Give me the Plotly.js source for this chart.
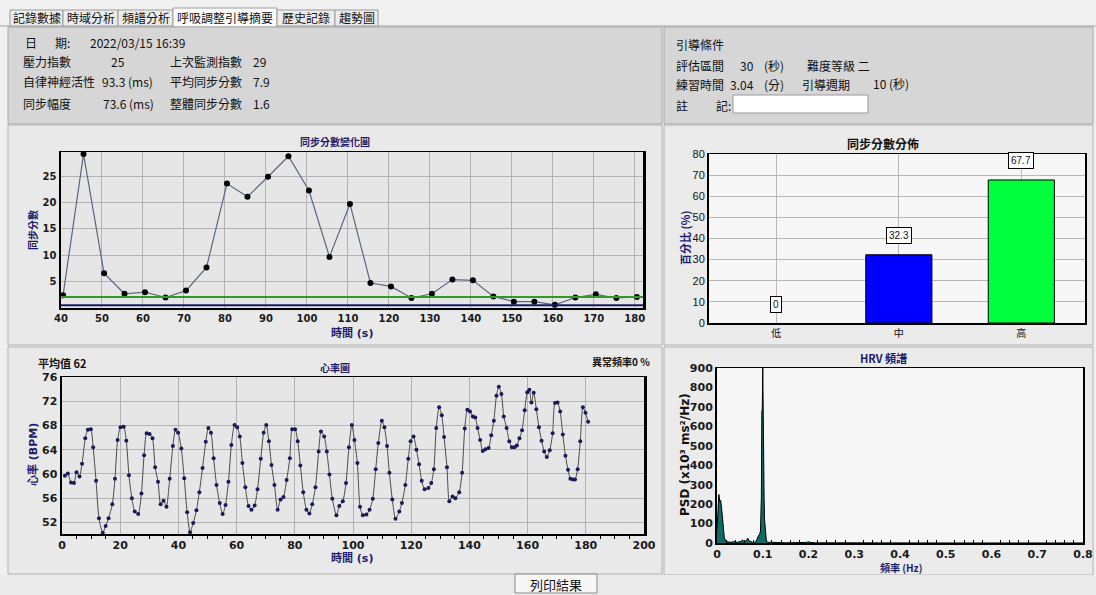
<!DOCTYPE html>
<html><head><meta charset="utf-8">
<script src="https://cdn.plot.ly/plotly-3.0.1.min.js"></script>
<style>html,body{margin:0;padding:0;background:#f0f0f0;overflow:hidden}#chart{width:1096px;height:595px}</style>
</head><body><div id="chart"></div>
<script>
// ---------------- DATA ----------------
const tabNames = ['記錄數據','時域分析','頻譜分析','呼吸調整引導摘要','歷史記錄','趨勢圖'];

const syncTime = [40.5,45.5,50.5,55.5,60.5,65.5,70.5,75.5,80.5,85.5,90.5,95.5,100.5,105.5,110.5,115.5,120.5,125.5,130.5,135.5,140.5,145.5,150.5,155.5,160.5,165.5,170.5,175.5,180.5];
const syncScore = [2.4,29.2,6.6,2.7,3.0,2.0,3.3,7.7,23.6,21.1,24.9,28.8,22.3,9.7,19.75,4.75,4.1,1.9,2.7,5.4,5.25,2.2,1.2,1.2,0.6,2.0,2.6,1.9,2.1];
const syncThresholds = [2.1, 0.5];

const distCategories = ['低','中','高'];
const distPercent = [0, 32.3, 67.7];

const hrTime = [1.0,2.0,3.1,4.1,5.0,6.0,6.9,8.0,8.9,9.9,
10.7,11.7,12.7,14.0,15.0,16.0,17.3,18.2,19.1,20.1,
21.2,22.1,23.0,24.0,25.0,26.2,27.3,28.2,29.1,30.1,
31.1,32.0,33.0,33.9,34.9,35.9,37.0,38.1,39.0,39.9,
41.0,42.0,43.0,44.0,45.1,46.2,47.2,48.3,49.4,50.3,
51.2,52.1,53.1,54.2,55.2,56.2,57.2,58.2,59.3,60.2,
61.1,62.0,63.0,64.1,65.1,66.2,67.2,68.3,69.3,70.2,
71.1,72.0,73.0,74.1,75.1,76.1,77.2,78.3,79.1,80.1,
81.0,81.9,82.9,84.0,85.0,86.0,87.1,88.2,89.0,90.1,
91.0,91.9,92.9,
94.3,95.3,96.5,97.6,98.6,99.6,100.5,101.5,102.4,103.4,
104.6,105.7,106.8,107.8,108.7,109.9,110.8,111.7,112.5,113.5,
114.6,115.9,116.8,118.0,119.0,119.8,120.8,121.8,122.7,123.6,
124.6,125.9,126.9,127.8,128.6,129.6,130.5,131.3,132.3,133.1,
134.2,135.2,136.5,137.5,138.4,139.3,140.2,141.2,142.0,142.8,
143.7,144.6,145.5,146.6,147.5,148.4,149.3,150.1,151.0,151.8,
152.8,153.7,154.6,155.5,156.3,157.2,158.1,159.0,159.9,160.6,
161.3,162.1,163.0,163.9,164.8,165.7,166.6,167.6,168.6,169.4,
170.3,171.2,172.1,173.0,173.9,174.7,175.6,176.3,177.2,178.1,
179.0,179.9,180.8];
const hrBpm = [59.7,60.1,58.6,58.5,60.3,59.6,61.7,65.9,67.3,67.4,
64.4,58.9,52.7,50.3,51.4,52.7,55.0,59.2,65.6,67.7,
67.8,65.5,59.8,56.0,53.8,53.4,56.8,63.1,66.7,66.6,
65.9,61.1,58.7,55.0,55.6,54.6,59.2,64.6,67.3,66.8,
64.2,59.3,53.7,50.4,51.9,54.0,57.0,61.0,65.3,67.6,
66.8,62.6,58.2,55.2,53.4,54.9,58.7,64.8,68.1,67.7,
66.2,61.8,57.8,54.7,54.1,54.8,57.5,62.5,66.8,68.1,
65.4,61.5,58.2,54.1,55.8,56.2,59.0,62.6,67.4,67.4,
65.4,61.4,57.0,54.1,53.5,55.0,57.8,63.7,67.0,66.2,
63.7,59.9,55.9,
53.2,54.7,55.5,58.5,64.4,68.1,65.6,61.8,54.6,53.2,
53.3,54.1,55.9,60.8,65.1,68.8,67.7,64.6,60.2,55.8,
52.6,53.8,55.2,58.2,62.5,65.4,66.2,64.0,61.6,58.9,
57.5,57.7,58.5,60.8,67.6,71.0,69.7,66.1,61.1,55.5,
56.3,56.0,57.0,60.2,67.5,70.6,70.3,69.5,69.3,67.6,
65.6,63.8,64.1,64.3,66.4,68.8,72.9,74.4,73.2,69.5,
67.6,65.4,64.4,64.4,64.7,65.9,67.2,70.5,73.5,73.9,
71.8,73.4,70.7,67.7,65.5,63.7,62.8,63.9,66.7,71.7,
71.8,70.3,66.5,63.0,60.7,59.2,59.1,59.1,60.8,65.4,
71.0,70.1,68.6];

const hrvFreq = [0,0.002,0.004,0.006,0.008,0.010,0.012,0.014,0.016,0.018,
0.020,0.024,0.028,0.032,0.036,0.040,0.044,0.048,0.052,0.056,
0.060,0.064,0.067,0.070,0.074,0.078,0.082,0.086,0.090,0.093,
0.095,0.097,0.098,0.099,0.100,0.101,0.102,0.103,0.104,0.106,
0.108,0.112,0.120,0.124,0.128,0.135,0.150,0.165,0.168,0.172,
0.185,0.196,0.200,0.204,0.215,0.250,0.300,0.400,0.500,0.600,0.700,0.800];
const hrvPsd = [70,150,250,215,220,180,140,80,25,12,
8,5,3,4,8,4,3,6,8,15,
6,12,25,12,6,3,4,10,35,45,
60,240,680,680,900,450,460,230,120,25,
8,4,3,6,5,2,1,2,4,2,
1,3,7,3,1,0.5,0.3,0.2,0.1,0.1,0.1,0.1];

// ---------------- LAYOUT HELPERS ----------------
const W = 1096, H = 595;
const X = p => p / W, Y = p => 1 - p / H;
const CJK = '"Noto Sans CJK TC", "Noto Sans", sans-serif';
const NUM = '"DejaVu Sans", "Noto Sans CJK TC", sans-serif';
const NAVY = '#1c1c6e';

function rect(x0, y0, x1, y1, fill, line, lw) {
  return {type:'rect', xref:'paper', yref:'paper', x0:X(x0), x1:X(x1), y0:Y(y1), y1:Y(y0),
    fillcolor:fill, line:{color:line||'rgba(0,0,0,0)', width: lw===undefined?1:lw}, layer:'below'};
}
function ann(text, x, y, o) {
  o = o || {};
  return {text:text, x:X(x), y:Y(y), xref:'paper', yref:'paper', showarrow:false,
    xanchor:o.xa||'left', yanchor:'middle', textangle:o.angle||0,
    font:{family:o.family||CJK, size:o.size||12, color:o.color||'#111', weight:o.weight||'normal'}};
}

const shapes = [];
const annotations = [];

// tabs
const tabEdges = [10,63,118,173,277,335,378];
shapes.push(rect(0,0,1096,27,'#f0f0f0','rgba(0,0,0,0)',0));
shapes.push({type:'line',xref:'paper',yref:'paper',x0:X(0),x1:X(1096),y0:Y(26),y1:Y(26),line:{color:'#a0a0a0',width:1},layer:'below'});
tabNames.forEach((t,i)=>{
  const active = i===3;
  shapes.push(rect(tabEdges[i], active?8:10, tabEdges[i+1], active?27:26, active?'#ffffff':'#ececec', '#9a9a9a', 1));
  annotations.push(ann(t,(tabEdges[i]+tabEdges[i+1])/2, 17, {xa:'center', size:12}));
});

// panels
shapes.push(rect(8,27,662,124,'#d6d6d6','#a8a8a8',1));
shapes.push(rect(664,27,1093,124,'#d6d6d6','#a8a8a8',1));
shapes.push(rect(8,125,662,345,'#e9e9e9','#b0b0b0',1));
shapes.push(rect(664,125,1093,345,'#ebebeb','#b0b0b0',1));
shapes.push(rect(8,347,662,574,'#e9e9e9','#b0b0b0',1));
shapes.push(rect(664,347,1093,575,'#ebebeb','#b0b0b0',1));
shapes.push(rect(0,575,1096,595,'#eaeaea','rgba(0,0,0,0)',0));

// plot backgrounds
const pbg = (ax, fill) => ({type:'rect', xref:ax[0]+' domain', yref:ax[1]+' domain', x0:0,x1:1,y0:0,y1:1, fillcolor:fill, line:{width:0}, layer:'below'});
shapes.push(pbg(['x','y'],'#e6e6e6'));
shapes.push(pbg(['x2','y2'],'#f7f7f7'));
shapes.push(pbg(['x3','y3'],'#e6e6e6'));
shapes.push(pbg(['x4','y4'],'#f6f6f6'));

// input box and button
shapes.push(rect(733,95,868,113,'#ffffff','#9a9a9a',1));
shapes.push(rect(515,574,597,593,'#f7f7f7','#8a8a8a',1));
annotations.push(ann('列印結果',556,584,{xa:'center',size:13}));

// info texts
annotations.push(ann('日',23,43));
annotations.push(ann('期:',53,43));
annotations.push(ann('2022/03/15 16:39',88,43));
annotations.push(ann('壓力指數',21,62));
annotations.push(ann('25',109,62));
annotations.push(ann('上次監測指數',168,62));
annotations.push(ann('29',251,62));
annotations.push(ann('自律神經活性',21,82));
annotations.push(ann('93.3 (ms)',100,82));
annotations.push(ann('平均同步分數',168,82));
annotations.push(ann('7.9',251,82));
annotations.push(ann('同步幅度',21,103));
annotations.push(ann('73.6 (ms)',101,103));
annotations.push(ann('整體同步分數',168,103));
annotations.push(ann('1.6',251,103));

annotations.push(ann('引導條件',674,45));
annotations.push(ann('評估區間',674,65));
annotations.push(ann('30',738,65));
annotations.push(ann('(秒)',762,65));
annotations.push(ann('難度等級 二',805,65));
annotations.push(ann('練習時間',674,85));
annotations.push(ann('3.04',728,85));
annotations.push(ann('(分)',762,85));
annotations.push(ann('引導週期',800,85));
annotations.push(ann('10 (秒)',871,84));
annotations.push(ann('註',674,105));
annotations.push(ann('記:',714,105));

// chart labels
annotations.push(ann('同步分數變化圖',335,141,{xa:'center',size:10,color:NAVY,weight:'bold'}));
annotations.push(ann('同步分數',33,230,{xa:'center',size:10,color:NAVY,weight:'bold',angle:-90}));
annotations.push(ann('時間 (s)',352,333,{xa:'center',size:11,color:NAVY,weight:'bold',family:NUM}));

annotations.push(ann('同步分數分佈',883,143,{xa:'center',size:12,color:'#111',weight:'bold'}));
annotations.push(ann('百分比 (%)',685,238,{xa:'center',size:11,color:NAVY,weight:'bold',angle:-90}));

annotations.push(ann('平均值 62',36,363,{size:11,weight:'bold'}));
annotations.push(ann('心率圖',335,367,{xa:'center',size:10,color:NAVY,weight:'bold'}));
annotations.push(ann('異常頻率0 %',652,362,{xa:'right',size:10,weight:'bold'}));
annotations.push(ann('時間 (s)',352,558,{xa:'center',size:11,color:NAVY,weight:'bold',family:NUM}));
annotations.push(ann('心率 (BPM)',33,455,{xa:'center',size:11,color:NAVY,weight:'bold',angle:-90,family:NUM}));

annotations.push(ann('HRV 頻譜',883,358,{xa:'center',size:11,color:NAVY,weight:'bold'}));
annotations.push(ann('頻率 (Hz)',901,567,{xa:'center',size:10,color:NAVY,weight:'bold'}));
annotations.push(ann('PSD (x10³ ms²/Hz)',685,455,{xa:'center',size:12,color:'#111',weight:'bold',angle:-90,family:NUM}));

// bar value labels
distCategories.forEach((c,i)=>{
  annotations.push({text:String(distPercent[i]), x:c, y:distPercent[i], xref:'x2', yref:'y2', yshift:19,
    showarrow:false, bgcolor:'#ffffff', bordercolor:'#000', borderwidth:1, borderpad:2,
    font:{family:'"Liberation Sans", sans-serif', size:10, color:'#111'}});
});

// threshold lines in sync chart
syncThresholds.forEach((v,i)=>{
  shapes.push({type:'line', xref:'x domain', yref:'y', x0:0, x1:1, y0:v, y1:v,
    line:{color: i===0 ? '#2f9a25' : '#1b1b66', width:2}, layer:'above'});
});

// ---------------- TRACES ----------------
const traces = [
  {type:'scatter', mode:'lines+markers', x:syncTime, y:syncScore, xaxis:'x', yaxis:'y',
   line:{color:'#5a6780', width:1.2}, marker:{color:'#000', size:6}},
  {type:'bar', x:distCategories, y:distPercent, xaxis:'x2', yaxis:'y2', width:0.54,
   marker:{color:['#888888','#0000ff','#00ff3c'], line:{color:'#000', width:[0,1,1]}}},
  {type:'scatter', mode:'lines+markers', x:hrTime, y:hrBpm, xaxis:'x3', yaxis:'y3',
   line:{color:'#4a4a4a', width:1, shape:'spline', smoothing:0.6}, marker:{color:'#1a1a5a', size:4}},
  {type:'scatter', mode:'lines', x:hrvFreq, y:hrvPsd, xaxis:'x4', yaxis:'y4',
   fill:'tozeroy', fillcolor:'#0f6b63', line:{color:'#000', width:1}}
];

const tickB = (s) => ({family:NUM, size:s, color:'#1a1a1a', weight:'bold'});
const base = {showline:true, mirror:true, linecolor:'#000', linewidth:1.5, zeroline:false, ticks:'', fixedrange:true, ticklabeloverflow:'allow'};

const layout = {
  width:W, height:H, margin:{l:0,r:0,t:0,b:0},
  paper_bgcolor:'#f0f0f0', plot_bgcolor:'rgba(0,0,0,0)', showlegend:false,
  font:{family:CJK, size:11, color:'#111'},
  xaxis:Object.assign({}, base, {domain:[X(61),X(643)], anchor:'y', range:[40,182], tick0:40, dtick:10,
    showgrid:true, gridcolor:'#b3b3b3', tickfont:tickB(10)}),
  yaxis:Object.assign({}, base, {domain:[Y(308),Y(152)], anchor:'x', range:[0,29.6], tickvals:[5,10,15,20,25],
    showgrid:true, gridcolor:'#b3b3b3', tickfont:tickB(10), linewidth:2.5}),
  xaxis2:Object.assign({}, base, {domain:[X(709),X(1085)], anchor:'y2', type:'category', range:[-0.55,2.52],
    showgrid:true, gridcolor:'#b8b8b8', tickfont:{family:CJK, size:10, color:'#111'}}),
  yaxis2:Object.assign({}, base, {domain:[Y(323),Y(154)], anchor:'x2', range:[0,80], dtick:10,
    showgrid:true, gridcolor:'#b8b8b8', tickfont:{family:'"Liberation Sans", sans-serif', size:11, color:'#111'}, linewidth:2}),
  xaxis3:Object.assign({}, base, {domain:[X(62),X(644)], anchor:'y3', range:[0,200], dtick:20,
    showgrid:true, gridcolor:'#b3b3b3', tickfont:tickB(11),
    minor:{dtick:5, ticks:'outside', ticklen:3, tickcolor:'#000', showgrid:false}}),
  yaxis3:Object.assign({}, base, {domain:[Y(534),Y(377)], anchor:'x3', range:[50.1,76], tick0:0, dtick:4,
    showgrid:true, gridcolor:'#b3b3b3', tickfont:tickB(11), linewidth:2.5}),
  xaxis4:Object.assign({}, base, {domain:[X(717),X(1083)], anchor:'y4', range:[0,0.8], dtick:0.1,
    showgrid:false, tickfont:tickB(11),
    minor:{dtick:0.02, ticks:'inside', ticklen:3, tickcolor:'#000', showgrid:false}}),
  yaxis4:Object.assign({}, base, {domain:[Y(543),Y(368)], anchor:'x4', range:[0,900], dtick:100,
    showgrid:false, tickfont:tickB(11), linewidth:2}),
  shapes:shapes, annotations:annotations
};

Plotly.newPlot('chart', traces, layout, {displayModeBar:false, staticPlot:true});
</script>
</body></html>
